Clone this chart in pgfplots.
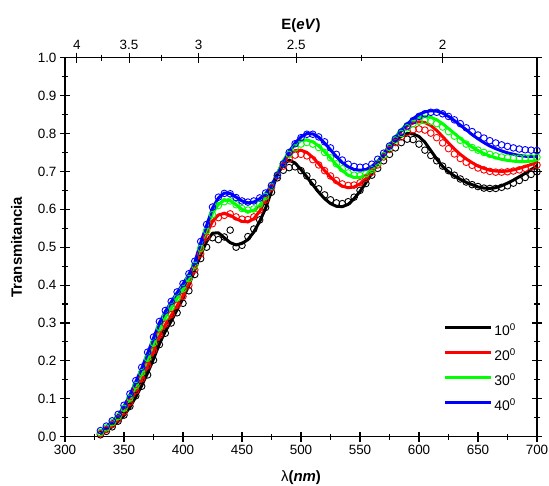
\documentclass[border=0pt]{standalone}
\usepackage{fontspec}
\setmainfont{Liberation Sans}
\usepackage{pgfplots}
\usepackage{pgfplotstable}
\pgfplotsset{compat=1.18}
\definecolor{cred}{RGB}{255,0,0}
\definecolor{cgreen}{RGB}{0,255,0}
\definecolor{cblue}{RGB}{0,0,255}

\pgfplotstableread{
lam   k10    k20    k30    k40
330  0.006  0.008  0.010  0.012
335  0.015  0.018  0.022  0.025
340  0.027  0.031  0.035  0.039
345  0.040  0.046  0.051  0.056
350  0.056  0.065  0.073  0.080
355  0.078  0.090  0.100  0.110
360  0.105  0.120  0.133  0.145
365  0.135  0.152  0.167  0.180
370  0.168  0.187  0.205  0.220
375  0.205  0.225  0.245  0.260
380  0.245  0.265  0.285  0.300
385  0.278  0.295  0.315  0.330
390  0.305  0.320  0.340  0.355
395  0.335  0.345  0.365  0.380
400  0.365  0.372  0.390  0.403
405  0.400  0.405  0.418  0.428
410  0.440  0.445  0.455  0.460
415  0.480  0.490  0.503  0.512
420  0.515  0.535  0.548  0.557
425  0.537  0.568  0.590  0.603
430  0.538  0.585  0.613  0.630
435  0.525  0.589  0.624  0.643
440  0.512  0.584  0.623  0.642
445  0.506  0.575  0.612  0.632
450  0.510  0.568  0.600  0.622
455  0.520  0.567  0.594  0.617
460  0.540  0.575  0.597  0.619
465  0.568  0.595  0.610  0.628
470  0.603  0.625  0.633  0.641
475  0.648  0.660  0.662  0.663
480  0.692  0.695  0.695  0.691
485  0.718  0.725  0.728  0.722
490  0.730  0.745  0.753  0.752
495  0.722  0.755  0.770  0.775
500  0.705  0.756  0.781  0.791
505  0.685  0.750  0.783  0.800
510  0.665  0.737  0.778  0.799
515  0.645  0.720  0.767  0.790
520  0.628  0.702  0.752  0.775
525  0.615  0.685  0.735  0.757
530  0.608  0.671  0.717  0.739
535  0.607  0.661  0.702  0.723
540  0.613  0.657  0.690  0.712
545  0.628  0.659  0.684  0.705
550  0.647  0.667  0.684  0.703
555  0.670  0.681  0.690  0.705
560  0.695  0.700  0.703  0.713
565  0.720  0.722  0.722  0.727
570  0.743  0.746  0.745  0.745
575  0.763  0.769  0.768  0.766
580  0.781  0.790  0.791  0.787
585  0.793  0.807  0.810  0.807
590  0.800  0.820  0.826  0.824
595  0.799  0.828  0.837  0.839
600  0.792  0.831  0.843  0.850
605  0.777  0.829  0.845  0.857
610  0.755  0.821  0.843  0.860
615  0.733  0.808  0.836  0.859
620  0.713  0.792  0.826  0.854
625  0.699  0.775  0.813  0.845
630  0.688  0.759  0.800  0.834
635  0.679  0.745  0.787  0.822
640  0.671  0.733  0.775  0.810
645  0.665  0.723  0.764  0.797
650  0.659  0.714  0.755  0.786
655  0.656  0.708  0.747  0.776
660  0.655  0.703  0.741  0.767
665  0.657  0.701  0.736  0.760
670  0.662  0.700  0.732  0.754
675  0.669  0.701  0.729  0.749
680  0.677  0.704  0.727  0.745
685  0.686  0.708  0.726  0.742
690  0.695  0.713  0.726  0.740
695  0.705  0.718  0.727  0.739
700  0.714  0.724  0.728  0.739
}\linetab

\pgfplotstableread{
lam  c10   c20   c30   c40
330 0.005 0.008 0.011 0.016
335 0.014 0.019 0.023 0.028
340 0.026 0.032 0.037 0.042
345 0.041 0.047 0.053 0.059
350 0.057 0.066 0.075 0.083
355 0.080 0.091 0.102 0.113
360 0.108 0.121 0.135 0.148
365 0.133 0.153 0.169 0.183
370 0.163 0.188 0.207 0.223
375 0.202 0.227 0.247 0.263
380 0.243 0.268 0.288 0.304
385 0.273 0.297 0.317 0.333
390 0.300 0.322 0.342 0.357
395 0.327 0.347 0.366 0.382
400 0.352 0.370 0.390 0.404
405 0.385 0.400 0.417 0.430
410 0.428 0.440 0.452 0.463
415 0.470 0.482 0.497 0.515
420 0.500 0.527 0.543 0.560
425 0.525 0.562 0.586 0.606
430 0.520 0.578 0.610 0.632
435 0.527 0.584 0.620 0.642
440 0.545 0.588 0.622 0.641
445 0.500 0.580 0.612 0.631
450 0.505 0.574 0.602 0.622
455 0.528 0.573 0.598 0.619
460 0.548 0.580 0.601 0.622
465 0.572 0.598 0.613 0.630
470 0.605 0.625 0.634 0.643
475 0.645 0.657 0.661 0.663
480 0.683 0.688 0.690 0.690
485 0.703 0.714 0.720 0.720
490 0.710 0.733 0.745 0.750
495 0.712 0.743 0.762 0.773
500 0.702 0.745 0.772 0.789
505 0.688 0.741 0.776 0.798
510 0.671 0.731 0.772 0.798
515 0.654 0.717 0.763 0.791
520 0.638 0.702 0.750 0.778
525 0.625 0.688 0.736 0.762
530 0.617 0.676 0.720 0.745
535 0.615 0.667 0.707 0.730
540 0.620 0.663 0.696 0.719
545 0.632 0.664 0.690 0.713
550 0.650 0.670 0.689 0.711
555 0.668 0.682 0.694 0.712
560 0.690 0.698 0.705 0.719
565 0.708 0.717 0.722 0.732
570 0.728 0.738 0.742 0.748
575 0.745 0.758 0.763 0.767
580 0.762 0.776 0.783 0.786
585 0.776 0.791 0.800 0.804
590 0.785 0.803 0.815 0.820
595 0.784 0.810 0.826 0.834
600 0.772 0.812 0.832 0.845
605 0.756 0.809 0.834 0.852
610 0.742 0.801 0.832 0.856
615 0.728 0.789 0.826 0.856
620 0.714 0.775 0.817 0.852
625 0.702 0.760 0.805 0.845
630 0.690 0.746 0.793 0.836
635 0.680 0.734 0.782 0.826
640 0.672 0.724 0.772 0.815
645 0.665 0.716 0.763 0.805
650 0.660 0.709 0.756 0.796
655 0.656 0.704 0.750 0.788
660 0.655 0.700 0.745 0.781
665 0.655 0.698 0.741 0.775
670 0.658 0.698 0.738 0.770
675 0.662 0.699 0.736 0.766
680 0.669 0.701 0.735 0.762
685 0.676 0.704 0.735 0.759
690 0.684 0.708 0.735 0.757
695 0.692 0.712 0.736 0.756
700 0.699 0.717 0.737 0.755
}\circtab

\pgfplotsset{
  common/.style={
    scale only axis, width=472bp, height=379bp,
    xmin=300, xmax=700, ymin=0, ymax=1,
    tick align=center,
    major tick length=10bp, minor tick length=6bp,
    every tick/.append style={black, line width=1.1bp},
    axis line style={line width=1.3bp},
    /pgf/number format/assume math mode=true,
    tick label style={font=\fontsize{13.5}{15}\selectfont},
    label style={font=\fontsize{15}{17}\selectfont\bfseries},
  },
  circ/.style={only marks, mark=o, mark size=3.3bp, mark options={line width=0.9bp}, forget plot},
  ln/.style={line width=3bp, line join=round},
}

\begin{document}
\begin{tikzpicture}
\begin{axis}[common,
  xtick={300,350,400,450,500,550,600,650,700},
  minor x tick num=1,
  ytick={0,0.1,0.2,0.3,0.4,0.5,0.6,0.7,0.8,0.9,1},
  minor y tick num=1,
  xtick pos=left, ytick pos=both,
  yticklabel style={/pgf/number format/fixed, /pgf/number format/fixed zerofill, /pgf/number format/precision=1},
  xlabel={{\mdseries λ}(\textit{nm})},
  ylabel={Transmitancia},
  xlabel shift=9bp,
  ylabel shift=9bp,
  legend cell align=left,
  legend style={draw=none, fill=none, at={(axis cs:621,0.297)}, anchor=north west,
    font=\fontsize{14}{15}\selectfont, row sep=10bp, inner sep=0pt,
    nodes={inner sep=1.5bp, text height=10bp, text depth=2bp}},
  legend image code/.code={\draw[#1] (0bp,4bp) -- (46bp,4bp);},
]
\addplot[black, circ] table[x=lam, y=c10]{\circtab};
\addplot[black, ln] table[x=lam, y=k10]{\linetab};
\addlegendentry{10\textsuperscript{0}}
\addplot[cred, circ] table[x=lam, y=c20]{\circtab};
\addplot[cred, ln] table[x=lam, y=k20]{\linetab};
\addlegendentry{20\textsuperscript{0}}
\addplot[cgreen, circ] table[x=lam, y=c30]{\circtab};
\addplot[cgreen, ln] table[x=lam, y=k30]{\linetab};
\addlegendentry{30\textsuperscript{0}}
\addplot[cblue, circ] table[x=lam, y=c40]{\circtab};
\addplot[cblue, ln] table[x=lam, y=k40]{\linetab};
\addlegendentry{40\textsuperscript{0}}
\end{axis}
\begin{axis}[common,
  axis x line*=top, axis y line=none,
  xtick={310,354.2857,413.3333,496,620},
  xticklabels={4,3.5,3,2.5,2},
  minor xtick={330.6667,381.5385,450.9091,551.1111},
  xlabel={E(\textit{eV})},
]
\end{axis}
\pgfresetboundingbox
\path (-65bp,-49.3bp) rectangle (484bp,436.7bp);
\end{tikzpicture}
\end{document}
